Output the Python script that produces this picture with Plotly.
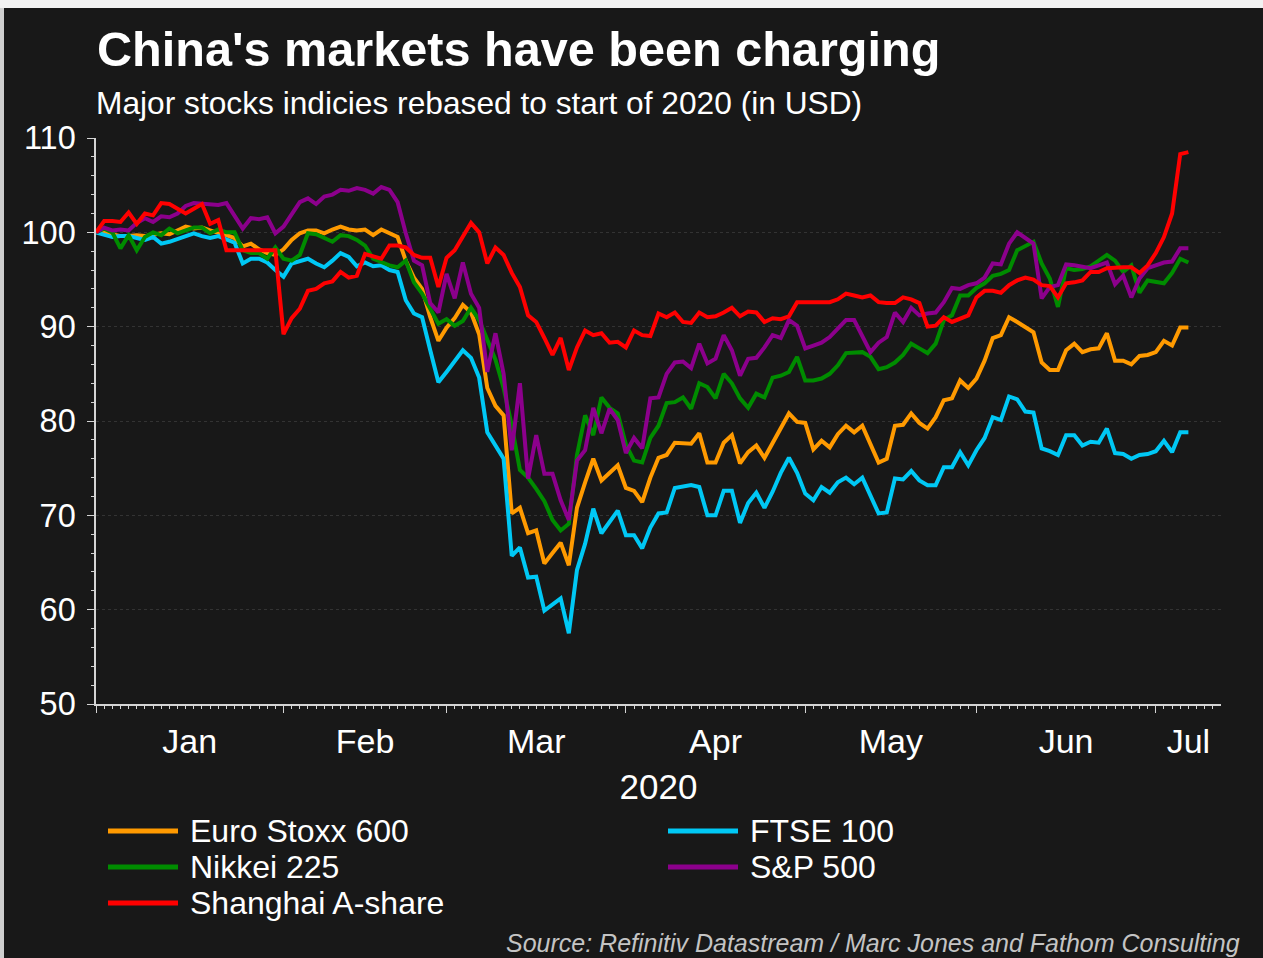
import plotly.graph_objects as go
import pandas as pd

# ---------------- data ----------------
dates = pd.bdate_range("2020-01-01", "2020-07-07")  # weekdays, 135 points

euro_stoxx = [
    100.0, 100.0, 99.8, 99.6, 99.6, 99.7, 99.6, 99.7, 99.9, 99.8,
    100.2, 100.6, 100.4, 100.5, 100.2, 100.0, 99.7, 99.4, 98.5, 98.8,
    98.2, 97.8, 97.6,
    98.2, 99.2, 99.9, 100.2, 100.2, 99.9, 100.3, 100.6, 100.3, 100.2,
    100.3, 99.7, 100.3, 99.9, 99.5, 97.0, 95.2, 94.0, 91.0, 88.5,
    89.9, 90.9, 92.3, 91.5, 89.2, 83.5, 81.6, 80.6, 70.2, 70.8,
    68.1, 68.4, 64.9, 66.0, 67.1, 64.7, 70.8, 73.5, 76.0, 73.7,
    74.5, 75.3,
    72.9, 72.6, 71.4, 74.0, 76.1, 76.4, 77.7, 77.6, 77.6, 78.7,
    75.6, 75.6, 77.7, 78.5, 75.5, 76.7, 77.4, 76.1, 77.6, 79.2,
    80.8, 79.9,
    79.8, 77.0, 77.9, 77.2, 78.6, 79.5, 78.8, 79.5, 77.5, 75.6,
    76.0, 79.5, 79.6, 80.8, 79.8, 79.2, 80.4, 82.2, 82.4, 84.3,
    83.5,
    84.5, 86.4, 88.8, 89.1, 91.0, 90.5, 90.0, 89.4, 86.2, 85.4,
    85.4, 87.5, 88.2, 87.3, 87.6, 87.7, 89.3, 86.4, 86.4, 86.0,
    86.9, 87.0,
    87.3, 88.5, 88.0, 89.9, 89.9,
]

ftse_100 = [
    100.0, 99.8, 99.5, 99.6, 99.6, 99.4, 99.2, 99.5, 98.8, 99.0,
    99.3, 99.5, 99.9, 99.6, 99.4, 99.6, 99.2, 98.9, 96.7, 97.2,
    97.2, 96.8, 96.0,
    95.3, 96.7, 97.0, 97.2, 96.7, 96.3, 97.0, 97.8, 97.4, 96.4,
    96.8, 96.4, 96.5, 96.0, 95.8, 92.8, 91.4, 91.0, 87.5, 84.1,
    85.2, 86.4, 87.5, 86.7, 84.6, 78.8, 77.3, 76.0, 65.7, 66.6,
    63.4, 63.5, 59.9, 60.5, 61.2, 57.5, 64.2, 67.0, 70.7, 68.1,
    69.3, 70.5,
    67.9, 67.9, 66.5, 68.7, 70.2, 70.3, 72.9, 73.0, 73.2, 73.0,
    70.0, 70.0, 72.6, 72.6, 69.2, 71.3, 72.4, 70.8, 72.5, 74.5,
    76.1, 74.5,
    72.3, 71.6, 73.0, 72.4, 73.5, 74.0, 73.3, 74.0, 72.0, 70.2,
    70.3, 73.9, 73.8, 74.7, 73.7, 73.2, 73.2, 75.1, 75.1, 76.7,
    75.3,
    76.9, 78.2, 80.4, 80.1, 82.6, 82.3, 81.0, 80.9, 77.1, 76.8,
    76.4, 78.5, 78.5, 77.4, 77.8, 77.7, 79.2, 76.6, 76.5, 76.0,
    76.4, 76.5,
    76.8, 77.9, 76.7, 78.8, 78.8,
]

nikkei_225 = [
    100.0, 100.4, 100.0, 98.3, 99.7, 98.1, 99.5, 100.0, 99.7, 100.4,
    99.9, 100.2, 100.5, 100.5, 99.9, 100.3, 100.0, 100.0, 98.1, 97.8,
    97.8, 97.2, 98.4,
    97.2, 97.0, 97.6, 99.9, 99.8, 99.4, 99.0, 99.7, 99.6, 99.2,
    98.6, 97.2, 96.8, 96.5, 96.3, 97.0, 94.7, 93.5, 91.9, 90.3,
    90.8, 90.1, 90.6, 92.0, 90.7, 88.5, 86.5, 83.5, 79.5, 74.8,
    74.0, 72.8, 71.5, 69.5, 68.4, 69.1, 76.4, 80.6, 78.5, 82.5,
    81.4, 80.8,
    77.5, 75.8, 75.6, 78.2, 79.5, 81.9, 82.0, 82.5, 81.3, 84.0,
    83.6, 82.4, 85.0, 84.0, 82.4, 81.4, 82.9, 82.5, 84.6, 84.8,
    85.2, 86.8,
    84.3, 84.3, 84.5, 85.0, 85.9, 87.2, 87.2, 87.3, 86.8, 85.5,
    85.7, 86.2, 87.0, 88.2, 87.7, 87.2, 88.2, 90.7, 91.2, 93.3,
    93.3,
    94.1, 94.6, 95.4, 95.6, 96.0, 98.1, 98.6, 99.0, 96.7, 95.1,
    92.1, 96.2, 96.0, 96.1, 96.4, 97.0, 97.6, 97.0, 95.8, 96.5,
    93.6, 94.9,
    94.8, 94.6, 95.7, 97.2, 96.8,
]

sp_500 = [
    100.0, 100.5, 100.2, 100.3, 100.2, 101.0, 101.5, 101.1, 101.7, 101.6,
    102.0, 102.8, 103.1, 103.0, 103.0, 102.9, 103.1, 101.8, 100.4, 101.5,
    101.4, 101.6, 99.9,
    100.6, 101.9, 103.2, 103.6, 103.0, 103.8, 104.0, 104.5, 104.4, 104.7,
    104.5, 104.1, 104.8, 104.5, 103.2, 99.9, 97.0, 96.5, 92.5, 91.5,
    95.6, 93.0, 96.8, 93.5, 92.0, 85.2, 89.3, 85.0, 76.9, 84.0,
    73.9, 78.5, 74.4, 74.4, 71.6, 69.5, 75.8, 76.9, 81.4, 78.7,
    81.3, 80.1,
    76.6, 78.2, 77.1, 82.4, 82.5, 85.0, 86.2, 86.3, 85.6, 88.2,
    86.1, 86.6, 89.1, 87.5, 84.8, 86.6, 86.7, 87.8, 89.1, 88.8,
    90.7, 90.1,
    87.7, 88.0, 88.3, 88.9, 89.8, 90.7, 90.7, 89.1, 87.3, 88.3,
    88.9, 91.5, 90.5, 92.0, 91.2, 91.4, 91.5, 92.6, 94.1, 94.0,
    94.4,
    94.6, 95.2, 96.7, 96.6, 98.8, 100.0, 99.4, 98.8, 93.0, 94.2,
    94.4, 96.6, 96.5, 96.4, 96.2, 96.5, 96.8, 94.5, 95.4, 93.1,
    95.1, 96.2,
    96.5, 96.8, 96.9, 98.3, 98.3,
]

shanghai_a = [
    100.0, 101.2, 101.2, 101.1, 102.1, 100.9, 102.0, 101.8, 103.1, 103.0,
    102.5, 102.0, 102.5, 103.0, 100.9, 101.3, 98.1, 98.1, 98.1, 98.1,
    98.1, 98.1, 98.1,
    89.2, 90.9, 91.9, 93.8, 94.0, 94.6, 94.8, 95.8, 95.2, 95.4,
    97.7, 97.5, 97.2, 98.6, 98.6, 98.4, 97.6, 97.3, 97.3, 94.2,
    97.3, 98.1, 99.5, 101.0, 100.0, 96.7, 98.4, 97.6, 95.7, 94.2,
    91.2, 90.5, 88.8, 87.0, 88.8, 85.4, 87.8, 89.6, 89.1, 89.3,
    88.3, 88.4,
    87.8, 89.6, 89.1, 89.0, 91.4, 91.0, 91.5, 90.5, 90.4, 91.5,
    91.0, 91.1, 91.5, 92.0, 91.1, 91.6, 91.5, 90.5, 90.9, 90.8,
    91.1, 92.6,
    92.6, 92.6, 92.6, 92.6, 92.9, 93.5, 93.3, 93.1, 93.3, 92.6,
    92.5, 92.5, 93.1, 92.9, 92.5, 90.0, 90.1, 91.0, 90.5, 90.8,
    91.2,
    93.1, 93.8, 93.8, 93.6, 94.4, 94.9, 95.2, 95.0, 94.4, 94.3,
    93.1, 94.6, 94.7, 94.9, 95.8, 95.8, 96.2, 96.3, 96.3, 96.3,
    95.7, 96.5,
    97.8, 99.5, 102.0, 108.3, 108.5,
]

series_names = ["Euro Stoxx 600", "FTSE 100", "Nikkei 225", "S&P 500", "Shanghai A-share"]
series_values = [euro_stoxx, ftse_100, nikkei_225, sp_500, shanghai_a]
series_colors = ["#FF9A00", "#00C8F5", "#008C00", "#8C008C", "#FF0000"]

month_starts = ["2020-01-01", "2020-02-03", "2020-03-02", "2020-04-01",
                "2020-05-01", "2020-06-01", "2020-07-01"]
month_label_pos = ["2020-01-16 12:00", "2020-02-17", "2020-03-17", "2020-04-16",
                   "2020-05-15 12:00", "2020-06-16", "2020-07-07"]
month_labels = ["Jan", "Feb", "Mar", "Apr", "May", "Jun", "Jul"]
y_ticks = [50, 60, 70, 80, 90, 100, 110]

# ---------------- style / layout ----------------
W, H = 1263, 958
L, R, T, B = 96, 1221, 138, 704   # plot area in pixels
BG = "#181818"
AX = "#d4d4d4"
FN = "Liberation Sans, Arial, sans-serif"


def px_x(px):
    return (px - L) / (R - L)


def px_y(py):
    return (B - py) / (B - T)


fig = go.Figure()
for name, vals, col in zip(series_names, series_values, series_colors):
    fig.add_trace(go.Scatter(x=dates, y=vals, name=name, mode="lines",
                             line=dict(color=col, width=4), showlegend=False))

# empty helper trace so that the month-label axis (x2) is drawn
fig.add_trace(go.Scatter(x=[dates[0], dates[-1]], y=[None, None], xaxis="x2",
                         mode="lines", showlegend=False, hoverinfo="skip"))

xrange_ = ["2020-01-01", "2020-07-11"]
breaks = [dict(bounds=["sat", "mon"])]

shapes = []
annotations = []

# custom legend (long line samples)
legend_items = [(0, 108, 178, 188, 831), (1, 668, 738, 748, 831),
                (2, 108, 178, 188, 867), (3, 668, 738, 748, 867),
                (4, 108, 178, 188, 903)]
for idx, x0, x1, xt, yy in legend_items:
    shapes.append(dict(type="line", xref="paper", yref="paper",
                       x0=px_x(x0), x1=px_x(x1), y0=px_y(yy), y1=px_y(yy),
                       line=dict(color=series_colors[idx], width=5)))
    annotations.append(dict(text=series_names[idx], xref="paper", yref="paper",
                            x=px_x(xt), y=px_y(yy), xanchor="left", yanchor="middle",
                            showarrow=False,
                            font=dict(family=FN, size=32, color="white")))

# subtitle
annotations.append(dict(text="Major stocks indicies rebased to start of 2020 (in USD)",
                        xref="paper", yref="paper", x=px_x(94), y=px_y(103),
                        xanchor="left", yanchor="middle", showarrow=False,
                        font=dict(family=FN, size=31.7, color="white")))
# source
annotations.append(dict(text="<i>Source: Refinitiv Datastream / Marc Jones and Fathom Consulting</i>",
                        xref="paper", yref="paper", x=px_x(1242), y=px_y(943),
                        xanchor="right", yanchor="middle", showarrow=False,
                        font=dict(family=FN, size=25, color="#c4c4c4")))

# light frame edges of the screenshot
shapes.append(dict(type="rect", xref="paper", yref="paper", layer="above",
                   x0=px_x(0), x1=px_x(W), y0=px_y(8), y1=px_y(0),
                   fillcolor="#f2f2f2", line=dict(width=0)))
shapes.append(dict(type="rect", xref="paper", yref="paper", layer="above",
                   x0=px_x(0), x1=px_x(4), y0=px_y(H), y1=px_y(8),
                   fillcolor="#cfcfcf", line=dict(width=0)))

fig.update_layout(
    width=W, height=H,
    margin=dict(l=L, r=W - R, t=T, b=H - B),
    paper_bgcolor=BG, plot_bgcolor=BG,
    title=dict(text="<b>China's markets have been charging</b>",
               xref="container", yref="container",
               x=97 / W, xanchor="left", y=1 - 48.5 / H, yanchor="middle",
               font=dict(family=FN, size=48.6, color="white")),
    xaxis=dict(type="date", range=xrange_, rangebreaks=breaks, automargin=False,
               tickmode="array", tickvals=month_starts, showticklabels=False,
               ticks="outside", ticklen=7, tickwidth=1.2, tickcolor=AX,
               showline=True, linecolor=AX, linewidth=1.5,
               showgrid=False, zeroline=False,
               minor=dict(tickmode="linear", tick0="2020-01-01", dtick=86400000,
                          ticks="outside", ticklen=3.5, tickwidth=1, tickcolor=AX,
                          showgrid=False)),
    xaxis2=dict(type="date", overlaying="x", anchor="y", side="bottom",
                range=xrange_, rangebreaks=breaks, automargin=False,
                tickmode="array", tickvals=month_label_pos, ticktext=month_labels,
                ticks="", showline=False, showgrid=False, zeroline=False,
                ticklabelstandoff=14,
                tickfont=dict(family=FN, size=34, color="white"),
                title=dict(text="2020", standoff=15,
                           font=dict(family=FN, size=35, color="white"))),
    yaxis=dict(range=[50, 110], tickmode="array", tickvals=y_ticks, automargin=False,
               ticks="outside", ticklen=7, tickwidth=1.2, tickcolor=AX,
               showline=True, linecolor=AX, linewidth=1.5,
               showgrid=True, gridcolor="#333333", griddash="dot", gridwidth=1,
               zeroline=False, ticklabelstandoff=5,
               tickfont=dict(family=FN, size=32.5, color="white"),
               minor=dict(tickmode="linear", tick0=50, dtick=2, ticks="outside",
                          ticklen=3.5, tickwidth=1, tickcolor=AX, showgrid=False)),
    shapes=shapes,
    annotations=annotations,
    showlegend=False,
)

fig.write_html("out.html")
